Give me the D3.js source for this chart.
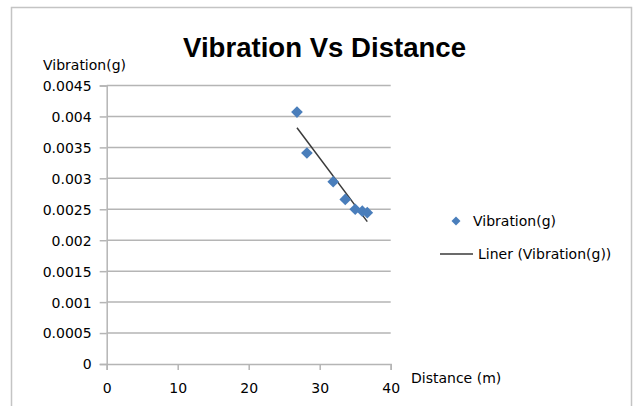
<!DOCTYPE html>
<html>
<head>
<meta charset="utf-8">
<script src="https://cdn.jsdelivr.net/npm/d3@7"></script>
<style>
    body { margin: 0; background: #ffffff; }
    svg { display: block; }
    .tickText { font-family: "DejaVu Sans", sans-serif; font-size: 14px; fill: #000; }
</style>
</head>
<body>
<div id="chart"></div>
<script>
"use strict";

// data
const distance = [26.8, 28.2, 31.9, 33.6, 35.0, 36.0, 36.7]
const vibration = [0.00407, 0.00341, 0.002945, 0.00266, 0.0025, 0.00247, 0.002445]
const xTicks = [0, 10, 20, 30, 40]
const yTicks = [0, 0.0005, 0.001, 0.0015, 0.002, 0.0025, 0.003, 0.0035, 0.004, 0.0045]
const yTickLabels = ["0", "0.0005", "0.001", "0.0015", "0.002", "0.0025", "0.003", "0.0035", "0.004", "0.0045"]

const W = 634, H = 406
const gridColor = "#b5b5b5"
const markerColor = "#4a7ebb"

let svg = d3.select("#chart").append("svg")
    .attr("width", W)
    .attr("height", H)

// outer frame
svg.append("rect")
    .attr("x", 11.5).attr("y", 7.5)
    .attr("width", 620).attr("height", 410)
    .attr("fill", "#fff")
    .attr("stroke", "#c4c4c4")
    .attr("stroke-width", 1.5)

// scales
let x = d3.scaleLinear().domain([0, 40]).range([106.7, 390.7])
let y = d3.scaleLinear().domain([0, 0.0045]).range([364, 85.5])

// gridlines
svg.append("g")
    .selectAll("line")
    .data(yTicks.slice(1))
    .enter().append("line")
    .attr("x1", x(0)).attr("x2", x(40))
    .attr("y1", d => y(d)).attr("y2", d => y(d))
    .attr("stroke", gridColor)
    .attr("stroke-width", 1.5)

// y axis
let yAxis = svg.append("g")
    .attr("transform", "translate(" + x(0) + ",0)")
    .call(d3.axisLeft(y).tickValues(yTicks)
        .tickFormat((d, i) => yTickLabels[i])
        .tickSize(7).tickPadding(8))
yAxis.select(".domain").attr("stroke", gridColor).attr("stroke-width", 1.5)
yAxis.selectAll(".tick line").attr("stroke", gridColor).attr("stroke-width", 1.5)
yAxis.selectAll(".tick text").attr("class", "tickText").attr("dy", "0.35em")

// x axis
let xAxis = svg.append("g")
    .attr("transform", "translate(0," + y(0) + ")")
    .call(d3.axisBottom(x).tickValues(xTicks).tickSize(6).tickPadding(13))
xAxis.select(".domain").attr("stroke", gridColor).attr("stroke-width", 1.5)
xAxis.selectAll(".tick line").attr("stroke", gridColor).attr("stroke-width", 1.5)
xAxis.selectAll(".tick text").attr("class", "tickText")

// linear trend line (least squares over the points)
let mx = d3.mean(distance), my = d3.mean(vibration)
let sxy = d3.sum(distance, (d, i) => (d - mx) * (vibration[i] - my))
let sxx = d3.sum(distance, d => (d - mx) * (d - mx))
let slope = sxy / sxx
let intercept = my - slope * mx
let xEnds = d3.extent(distance)

svg.append("path")
    .datum(xEnds)
    .attr("fill", "none")
    .attr("stroke", "#3a3a3a")
    .attr("stroke-width", 1.5)
    .attr("d", d3.line()
        .x(d => x(d))
        .y(d => y(intercept + slope * d)))

// diamond markers
let diamond = d3.symbol().type(d3.symbolSquare).size(68)
svg.append("g")
    .selectAll("path")
    .data(distance)
    .enter().append("path")
    .attr("d", diamond)
    .attr("transform", (d, i) => "translate(" + x(d) + "," + y(vibration[i]) + ") rotate(45)")
    .attr("fill", markerColor)

// titles
svg.append("text")
    .attr("x", 324.5).attr("y", 57)
    .attr("text-anchor", "middle")
    .attr("textLength", 283)
    .attr("lengthAdjust", "spacingAndGlyphs")
    .style("font-family", "'Liberation Sans', Arial, sans-serif")
    .style("font-weight", "bold")
    .style("font-size", "28px")
    .text("Vibration Vs Distance")

svg.append("text")
    .attr("class", "tickText")
    .attr("x", 43).attr("y", 70)
    .text("Vibration(g)")

svg.append("text")
    .attr("class", "tickText")
    .attr("x", 411).attr("y", 383)
    .text("Distance (m)")

// legend
let legend = svg.append("g")
legend.append("path")
    .attr("d", d3.symbol().type(d3.symbolSquare).size(40))
    .attr("transform", "translate(456,221) rotate(45)")
    .attr("fill", markerColor)
legend.append("text")
    .attr("class", "tickText")
    .attr("x", 473).attr("y", 221).attr("dy", "0.35em")
    .text("Vibration(g)")
legend.append("line")
    .attr("x1", 440).attr("x2", 473)
    .attr("y1", 254).attr("y2", 254)
    .attr("stroke", "#3a3a3a")
    .attr("stroke-width", 1.5)
legend.append("text")
    .attr("class", "tickText")
    .attr("x", 478).attr("y", 254).attr("dy", "0.35em")
    .text("Liner (Vibration(g))")
</script>
</body>
</html>
